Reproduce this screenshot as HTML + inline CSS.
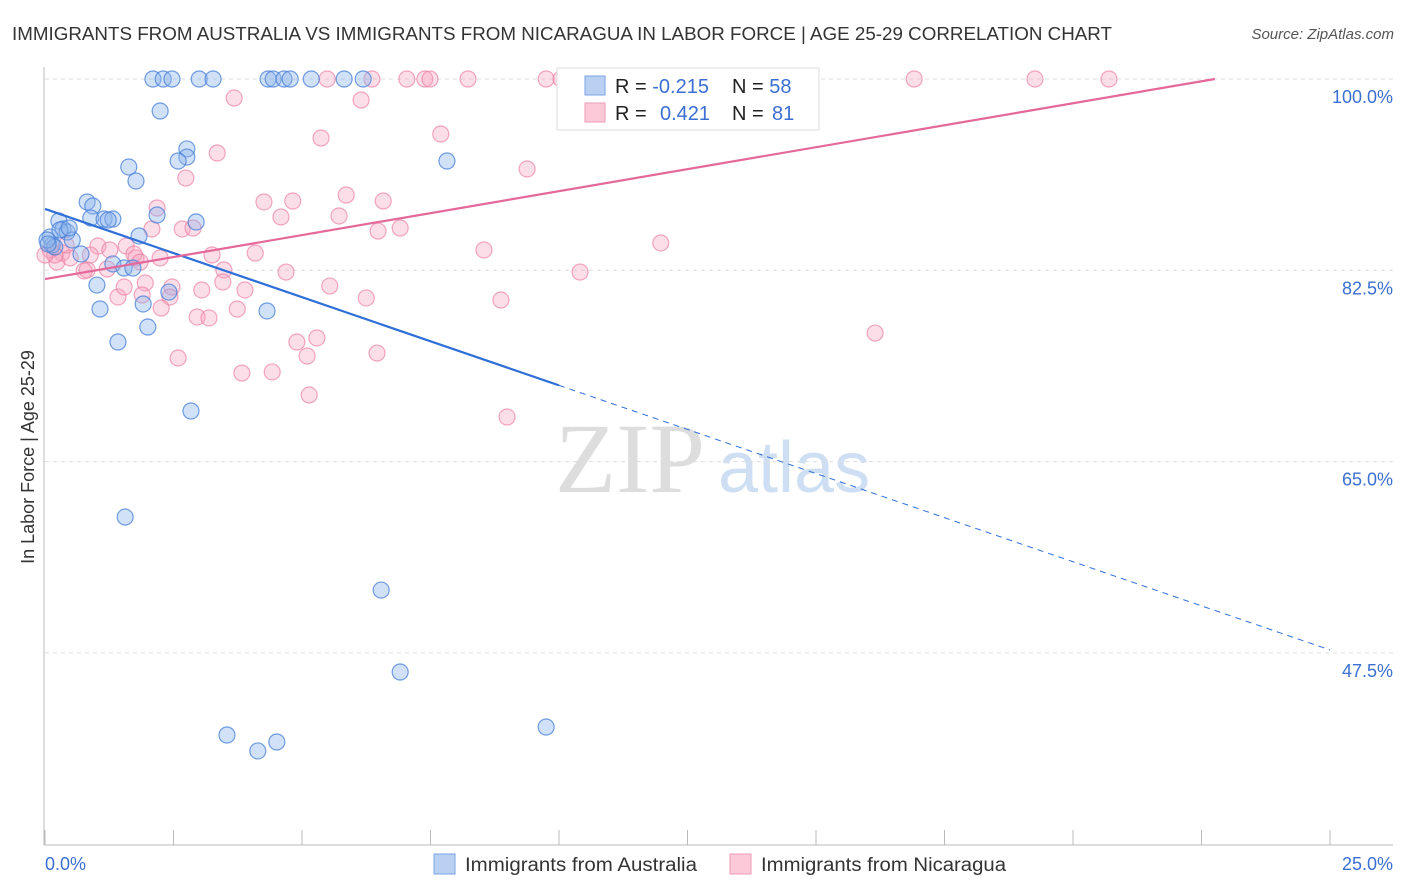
<!DOCTYPE html>
<html><head><meta charset="utf-8"><style>
body{margin:0;background:#fff;font-family:"Liberation Sans",sans-serif;}
svg{display:block}
</style></head><body>
<svg width="1406" height="892">
<text x="12" y="40" font-size="18.5" fill="#333" textLength="1100" lengthAdjust="spacingAndGlyphs">IMMIGRANTS FROM AUSTRALIA VS IMMIGRANTS FROM NICARAGUA IN LABOR FORCE | AGE 25-29 CORRELATION CHART</text>
<text x="1394" y="39" font-size="15" fill="#555" font-style="italic" text-anchor="end">Source: ZipAtlas.com</text>
<text x="555" y="492" font-size="100" fill="#ddd" font-family="Liberation Serif,serif">ZIP</text>
<text x="718" y="492" font-size="72" fill="#cfdff3">atlas</text>
<g id="grid"></g>
<g id="marks"></g>
<text transform="translate(34,457) rotate(-90)" font-size="18" fill="#333" text-anchor="middle">In Labor Force | Age 25-29</text>
<g>
<rect x="557" y="68" width="262" height="62" fill="#fff" stroke="#ddd"/>
<rect x="585" y="76" width="20" height="19" fill="#b9d0f3" stroke="#7aa3e6"/>
<rect x="585" y="103" width="20" height="19" fill="#fbc9d7" stroke="#ee9ab4"/>
<text x="615" y="93" font-size="20" fill="#222">R = <tspan fill="#3b6fd1">-0.215</tspan></text>
<text x="732" y="93" font-size="20" fill="#222">N = <tspan fill="#3b6fd1">58</tspan></text>
<text x="615" y="120" font-size="20" fill="#222">R = <tspan fill="#3b6fd1" x="660">0.421</tspan></text>
<text x="732" y="120" font-size="20" fill="#222">N = <tspan fill="#3b6fd1" x="772">81</tspan></text>
</g>
<g>
<rect x="434" y="854" width="21" height="20" fill="#b9d0f3" stroke="#7aa3e6"/>
<text x="465" y="871" font-size="19" fill="#333" textLength="232" lengthAdjust="spacingAndGlyphs">Immigrants from Australia</text>
<rect x="730" y="854" width="21" height="20" fill="#fbc9d7" stroke="#ee9ab4"/>
<text x="761" y="871" font-size="19" fill="#333" textLength="245" lengthAdjust="spacingAndGlyphs">Immigrants from Nicaragua</text>
</g>
</svg>
<script>
const yTicks=[100,82.5,65,47.5];
const yTickLabels=["100.0%","82.5%","65.0%","47.5%"];
const xTickLabels=["0.0%","25.0%"];
const ausX=[2.10,2.30,2.47,3.00,3.27,4.34,4.44,4.65,4.77,5.18,5.82,6.19,2.24,2.76,2.76,2.59,1.63,1.77,0.82,0.93,0.27,0.89,1.15,1.32,2.18,2.94,0.35,0.43,0.10,0.53,0.14,0.19,0.70,1.83,1.32,1.54,1.71,2.41,1.01,1.07,1.91,4.32,2.00,1.42,7.82,2.84,1.56,6.54,6.91,3.54,4.14,4.51,9.75,0.04,0.06,0.29,0.47,1.23];
const ausY=[100,100,100,100,100,100,100,100,100,100,100,100,97.07,93.60,92.86,92.50,91.95,90.67,88.75,88.38,87.01,87.28,87.19,87.19,87.56,86.92,86.28,86.00,85.55,85.27,84.81,84.63,83.99,85.64,83.08,82.71,82.71,80.51,81.15,78.96,79.42,78.78,77.31,75.94,92.50,69.63,59.93,53.25,45.75,39.99,38.53,39.35,40.72,85.27,84.91,86.19,86.37,87.10];
const nicX=[5.49,6.36,7.04,7.39,7.49,8.23,9.75,10.04,16.91,19.26,20.70,3.68,6.15,5.37,7.70,3.35,2.74,9.38,5.86,4.82,4.26,6.58,2.18,5.72,4.59,2.67,2.88,6.48,6.91,3.25,4.09,11.98,8.54,2.08,1.03,1.58,1.26,1.77,0.33,0.23,0.82,0.76,1.21,1.73,3.48,3.46,4.69,10.41,3.05,3.89,2.47,5.54,1.95,1.42,1.54,1.89,2.43,6.25,8.87,2.26,2.96,3.19,3.74,4.90,5.29,5.10,6.46,2.59,3.83,4.42,5.14,8.99,16.15,0.10,0.19,0.49,0.00,0.41,0.88,2.24,1.85];
const nicY=[100,100,100,100,100,100,100,100,100,100,100,98.26,98.08,94.60,94.97,93.23,90.94,91.77,89.39,88.84,88.75,88.84,88.20,87.47,87.38,86.28,86.37,86.09,86.37,83.90,84.08,85.00,84.36,86.28,84.72,84.72,84.36,83.63,84.08,83.26,82.53,82.44,82.62,83.99,82.53,81.43,82.34,82.34,80.70,80.70,80.97,81.06,81.34,80.06,80.97,80.24,80.06,79.97,79.78,79.05,78.23,78.14,78.96,75.94,76.31,74.66,74.93,74.48,73.10,73.20,71.09,69.08,76.76,84.36,83.90,83.63,83.90,84.81,83.90,83.63,83.26];
const ausTrend=[88.11,47.77];
const nicTrend=[81.70,101.80];
const X=v=>45+v/25*1285;
const Y=v=>79+(100-v)/17.5*191.3;
const NS="http://www.w3.org/2000/svg";
function mk(t,a,p){const e=document.createElementNS(NS,t);for(const k in a)e.setAttribute(k,a[k]);p.appendChild(e);return e;}
const grid=document.getElementById('grid'),marks=document.getElementById('marks');
yTicks.forEach((t,i)=>{
 const l=mk('line',{x1:45,x2:1393,y1:Y(t),y2:Y(t),stroke:'#ddd','stroke-dasharray':'4,4'},grid);
 
 
 const tx=mk('text',{x:1393,y:Y(t)+24,'font-size':18,fill:'#3b6fd1','text-anchor':'end'},grid);
 tx.textContent=yTickLabels[i];
 
 
});
const ax=mk('line',{x1:44,x2:44,y1:67,y2:845,stroke:'#bbb'},grid);


const bx=mk('line',{x1:44,x2:1393,y1:845,y2:845,stroke:'#bbb'},grid);


for(let i=0;i<=10;i++){const tk=mk('line',{x1:X(i*2.5),x2:X(i*2.5),y1:830,y2:845,stroke:'#bbb'},grid);
 
 }
[[0,'start'],[25,'end']].forEach((p,i)=>{const t=mk('text',{x:i?1393:45,y:870,'font-size':18,fill:'#3b6fd1','text-anchor':p[1]},grid);t.textContent=xTickLabels[i];
 
 });
nicX.forEach((x,i)=>{const c=mk('circle',{cx:X(x),cy:Y(nicY[i]),r:8,fill:'rgba(246,160,188,0.35)',stroke:'rgba(236,130,165,0.7)','stroke-width':1.2},marks);
 
 });
ausX.forEach((x,i)=>{const c=mk('circle',{cx:X(x),cy:Y(ausY[i]),r:8,fill:'rgba(140,180,235,0.4)',stroke:'rgba(70,125,215,0.75)','stroke-width':1.2},marks);
 
 });
const at=v=>ausTrend[0]+(ausTrend[1]-ausTrend[0])*v/25;
const l1=mk('line',{x1:X(0),y1:Y(at(0)),x2:X(10),y2:Y(at(10)),stroke:'#2f6fd8','stroke-width':2.2},marks);


const l2=mk('line',{x1:X(10),y1:Y(at(10)),x2:X(25),y2:Y(at(25)),stroke:'#2f6fd8','stroke-width':1,'stroke-dasharray':'6,5'},marks);


const xEnd=(100-nicTrend[0])/(nicTrend[1]-nicTrend[0])*25;
const l3=mk('line',{x1:X(0),y1:Y(nicTrend[0]),x2:X(xEnd),y2:Y(100),stroke:'#e4689a','stroke-width':2.2},marks);


</script>
</body></html>
